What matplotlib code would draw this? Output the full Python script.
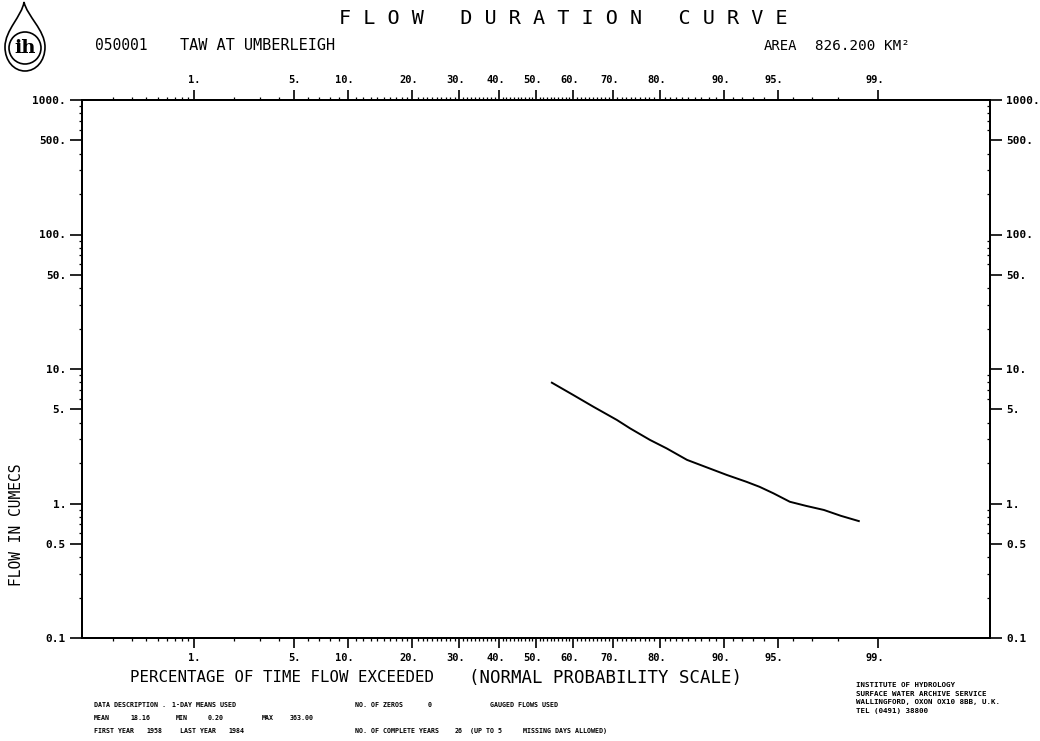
import numpy as np
import matplotlib
matplotlib.use('Agg')
import matplotlib.pyplot as plt
from matplotlib.path import Path
from matplotlib.patches import PathPatch, Circle
from matplotlib.transforms import Affine2D, ScaledTranslation
from matplotlib.ticker import FixedLocator, FixedFormatter, NullFormatter
from statistics import NormalDist

# ---------------- data ----------------
exceed_pct = [54.3, 60.0, 65.2, 70.9, 73.9, 78.1, 81.3, 84.8, 87.7, 90.3,
               92.4, 93.6, 94.7, 95.8, 96.7, 97.5, 98.1, 98.6]
flow_cumecs = [7.91, 6.41, 5.24, 4.18, 3.62, 2.97, 2.57, 2.11, 1.86, 1.63,
               1.45, 1.33, 1.19, 1.03, 0.96, 0.895, 0.81, 0.74]

x_major = [1, 5, 10, 20, 30, 40, 50, 60, 70, 80, 90, 95, 99]
x_major_labels = ['1.', '5.', '10.', '20.', '30.', '40.', '50.', '60.', '70.',
                  '80.', '90.', '95.', '99.']
x_minor = ([0.2, 0.3, 0.4, 0.5, 0.6, 0.7, 0.8, 0.9, 2, 3, 4, 6, 7, 8, 9]
           + list(range(11, 20)) + [v for v in range(21, 80) if v % 10]
           + list(range(81, 90)) + [91, 92, 93, 94, 96, 97, 98])
y_major = [0.1, 0.5, 1, 5, 10, 50, 100, 500, 1000]
y_major_labels = ['0.1', '0.5', '1.', '5.', '10.', '50.', '100.', '500.', '1000.']
y_minor = [k * 10.0 ** d for d in range(-1, 3) for k in (2, 3, 4, 6, 7, 8, 9)]

W, H = 1040, 741
MONO = 'DejaVu Sans Mono'
nd = NormalDist()

def fwd(p):
    p = np.clip(np.asarray(p, dtype=float), 1e-7, 100 - 1e-7)
    return np.vectorize(lambda v: nd.inv_cdf(v / 100.0))(p) if p.size else p

def inv(z):
    z = np.asarray(z, dtype=float)
    return np.vectorize(lambda v: nd.cdf(v) * 100.0)(z) if z.size else z

fig = plt.figure(figsize=(W / 100, H / 100), dpi=100)
L, R, T, B = 82, 990, 100, 638
ax = fig.add_axes([L / W, 1 - B / H, (R - L) / W, (B - T) / H])
ax.set_xscale('function', functions=(fwd, inv))
ax.set_yscale('log')
ax.set_xlim(0.1, 99.9)
ax.set_ylim(0.1, 1000)

ax.plot(exceed_pct, flow_cumecs, color='black', lw=1.4)

# x axis (top and bottom)
ax.xaxis.set_major_locator(FixedLocator(x_major))
ax.xaxis.set_major_formatter(FixedFormatter(x_major_labels))
ax.xaxis.set_minor_locator(FixedLocator(x_minor))
ax.xaxis.set_minor_formatter(NullFormatter())
ax.tick_params(axis='x', which='major', direction='out', length=7.5, width=1.2,
               top=True, labeltop=True, bottom=True, labelbottom=True, pad=3)
ax.tick_params(axis='x', which='minor', direction='out', length=2.2, width=0.9,
               top=True, bottom=True)

# y axis left
ax.yaxis.set_major_locator(FixedLocator(y_major))
ax.yaxis.set_major_formatter(FixedFormatter(y_major_labels))
ax.yaxis.set_minor_locator(FixedLocator(y_minor))
ax.yaxis.set_minor_formatter(NullFormatter())
ax.tick_params(axis='y', which='major', direction='out', length=8.5, width=1.2, pad=3)
ax.tick_params(axis='y', which='minor', direction='out', length=2.2, width=0.9)

# y axis right
ax2 = ax.twinx()
ax2.set_yscale('log')
ax2.set_ylim(0.1, 1000)
ax2.yaxis.set_major_locator(FixedLocator(y_major))
ax2.yaxis.set_major_formatter(FixedFormatter(y_major_labels))
ax2.yaxis.set_minor_locator(FixedLocator(y_minor))
ax2.yaxis.set_minor_formatter(NullFormatter())
ax2.tick_params(axis='y', which='major', direction='out', length=8.5, width=1.2, pad=3)
ax2.tick_params(axis='y', which='minor', direction='in', length=2.2, width=0.9)

for a in (ax, ax2):
    for s in a.spines.values():
        s.set_linewidth(1.4)
    for lab in a.get_yticklabels():
        lab.set_fontfamily(MONO)
        lab.set_fontweight('bold')
        lab.set_fontsize(8)

shift = ScaledTranslation(6 / 100, 0, fig.dpi_scale_trans)
for tk in ax.xaxis.get_major_ticks():
    for lab in (tk.label1, tk.label2):
        lab.set_fontfamily(MONO)
        lab.set_fontweight('bold')
        lab.set_fontsize(7.5)
        lab.set_horizontalalignment('right')
        lab.set_transform(lab.get_transform() + shift)

# ---------------- texts ----------------
def ftext(x, y, s, **kw):
    kw.setdefault('family', MONO)
    kw.setdefault('va', 'center')
    kw.setdefault('ha', 'left')
    fig.text(x / W, 1 - y / H, s, **kw)

def btext(x, y, s, **kw):
    # y is the baseline position in pixels
    kw.setdefault('family', MONO)
    fig.text(x / W, 1 - y / H, s, va='baseline', ha='left', **kw)

ftext(563, 18, 'F L O W   D U R A T I O N   C U R V E', fontsize=14.5, ha='center')
ftext(95, 46, '050001', fontsize=10.5)
ftext(180, 46, 'TAW AT UMBERLEIGH', fontsize=11)
ftext(764, 46, 'AREA', fontsize=10)
ftext(815, 46, '826.200 KM\u00b2', fontsize=10.3)

ftext(17, 525, 'FLOW IN CUMECS', fontsize=10.5, rotation=90, ha='center')
ftext(130, 678, 'PERCENTAGE OF TIME FLOW EXCEEDED', fontsize=11.3)
ftext(469, 678, '(NORMAL PROBABILITY SCALE)', fontsize=12.5)

small = dict(fontsize=4.8, fontweight='bold')
btext(94, 707, 'DATA DESCRIPTION .', **small)
btext(172, 707, '1-DAY MEANS USED', **small)
btext(355, 707, 'NO. OF ZEROS', **small)
btext(428, 707, '0', **small)
btext(490, 707, 'GAUGED FLOWS USED', **small)
btext(94, 720, 'MEAN', **small)
btext(130, 720, '18.16', **small)
btext(176, 720, 'MIN', **small)
btext(208, 720, '0.20', **small)
btext(262, 720, 'MAX', **small)
btext(290, 720, '363.00', **small)
btext(94, 733, 'FIRST YEAR', **small)
btext(146, 733, '1958', **small)
btext(180, 733, 'LAST YEAR', **small)
btext(228, 733, '1984', **small)
btext(355, 733, 'NO. OF COMPLETE YEARS', **small)
btext(455, 733, '26', **small)
btext(470, 733, '(UP TO 5', **small)
btext(523, 733, 'MISSING DAYS ALLOWED)', **small)

inst = dict(fontsize=5.4, fontweight='bold')
btext(856, 687, 'INSTITUTE OF HYDROLOGY', **inst)
btext(856, 696, 'SURFACE WATER ARCHIVE SERVICE', **inst)
btext(856, 704, 'WALLINGFORD, OXON OX10 8BB, U.K.', **inst)
btext(856, 713, 'TEL (0491) 38800', **inst)

# ---------------- logo ----------------
PT = Affine2D().scale(1 / W, -1 / H).translate(0, 1) + fig.transFigure
verts = [(24, 2),
         (22, 16), (5, 30), (5, 47),
         (5, 61), (14, 71), (25, 71),
         (36, 71), (45, 61), (45, 47),
         (45, 30), (27, 16), (24, 2),
         (24, 2)]
codes = [Path.MOVETO] + [Path.CURVE4] * 12 + [Path.CLOSEPOLY]
fig.patches.append(PathPatch(Path(verts, codes), transform=PT, fill=False,
                             lw=1.2, ec='black'))
fig.patches.append(Circle((25, 48), 16, transform=PT, fill=False, lw=1.2, ec='black'))
fig.text(25 / W, 1 - 48 / H, 'ih', family='DejaVu Serif', fontweight='bold',
         fontsize=14, ha='center', va='center')

fig.savefig('out.png', dpi=100)
